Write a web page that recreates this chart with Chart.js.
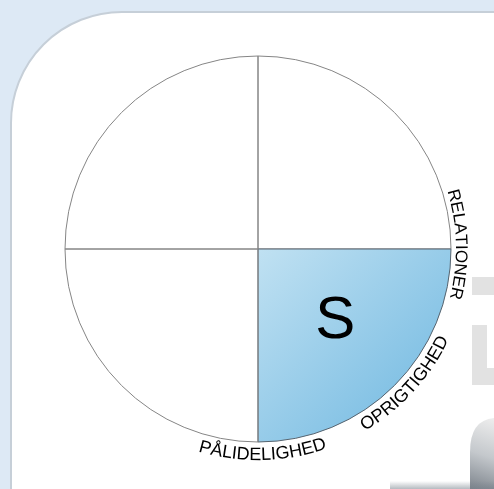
<!DOCTYPE html>
<html>
<head>
<meta charset="utf-8">
<script src="https://cdn.jsdelivr.net/npm/chart.js@4.4.1/dist/chart.umd.min.js"></script>
<style>
  html, body { margin: 0; padding: 0; }
  body { width: 494px; height: 489px; overflow: hidden; background: #dde9f5; position: relative; }
  #card {
    position: absolute; left: 10px; top: 11px; width: 520px; height: 520px;
    background: #fff; border: 2px solid #c6cfd8; border-top-left-radius: 112px;
  }
  #wheel { position: absolute; left: 0; top: 0; }
</style>
</head>
<body>
<div id="card"></div>
<canvas id="wheel" width="494" height="489"></canvas>
<script>
// === Data ===
const quadrantValues = [1, 1, 1, 1];             // fire lige store kvadranter
const quadrantLetters = ['', 'S', '', ''];       // bogstav i kvadrant
const quadrantActive = [false, true, false, false];
const ringLabels = ['RELATIONER', 'OPRIGTIGHED', 'PÅLIDELIGHED'];
const ringLabelAngles = [-1.5, 42.5, 88.7];      // grader, 0 = højre, med uret
const ringLabelOutward = [true, false, false];   // bogstavtoppe vendt udad?

const FONT = '"Liberation Sans", Arial, sans-serif';

// buet tekst langs cirklen
function drawArcText(ctx, text, cx, cy, r, centerDeg, outward, size) {
    ctx.save();
    ctx.font = size + 'px ' + FONT;
    ctx.fillStyle = '#000';
    ctx.textAlign = 'center';
    ctx.textBaseline = 'alphabetic';
    const total = ctx.measureText(text).width;
    const span = total / r;
    const mid = centerDeg * Math.PI / 180;
    let acc = 0;
    for (const ch of text) {
        const w = ctx.measureText(ch).width;
        const a = outward
            ? mid - span / 2 + (acc + w / 2) / r
            : mid + span / 2 - (acc + w / 2) / r;
        ctx.save();
        ctx.translate(cx + r * Math.cos(a), cy + r * Math.sin(a));
        ctx.rotate(outward ? a + Math.PI / 2 : a - Math.PI / 2);
        ctx.fillText(ch, 0, 0);
        ctx.restore();
        acc += w;
    }
    ctx.restore();
}

// grå baggrundsfigurer til højre
const decorPlugin = {
    id: 'decor',
    beforeDraw(chart) {
        const ctx = chart.ctx;
        ctx.save();
        ctx.fillStyle = '#e2e2e2';
        ctx.fillRect(472, 277, 22, 18);
        ctx.fillRect(472, 325, 15, 60);
        ctx.fillRect(472, 368, 22, 17);
        const g = ctx.createLinearGradient(494, 420, 470, 489);
        g.addColorStop(0, '#ececec');
        g.addColorStop(0.5, '#c4c8cc');
        g.addColorStop(1, '#7d848c');
        ctx.fillStyle = g;
        ctx.beginPath();
        ctx.moveTo(494, 418);
        ctx.quadraticCurveTo(470, 420, 470, 452);
        ctx.lineTo(470, 489);
        ctx.lineTo(494, 489);
        ctx.closePath();
        ctx.fill();
        const s = ctx.createLinearGradient(0, 481, 0, 489);
        s.addColorStop(0, 'rgba(120,130,140,0)');
        s.addColorStop(1, 'rgba(120,130,140,0.55)');
        ctx.fillStyle = s;
        ctx.fillRect(390, 481, 104, 8);
        ctx.restore();
    }
};

const labelPlugin = {
    id: 'ringLabels',
    afterDraw(chart) {
        const arc = chart.getDatasetMeta(0).data[0];
        const {x: cx, y: cy, outerRadius: R} = arc.getProps(['x', 'y', 'outerRadius'], true);
        const ctx = chart.ctx;
        ringLabels.forEach((t, i) => {
            const out = ringLabelOutward[i];
            drawArcText(ctx, t, cx, cy, out ? R + 5 : R + 18, ringLabelAngles[i], out, out ? 17 : 18);
        });
        // bogstaver i kvadranterne
        chart.getDatasetMeta(0).data.forEach((el, i) => {
            if (!quadrantLetters[i]) return;
            const p = el.getProps(['startAngle', 'endAngle'], true);
            const a = (p.startAngle + p.endAngle) / 2 - 0.07;
            const x = cx + R * 0.53 * Math.cos(a);
            const y = cy + R * 0.53 * Math.sin(a);
            ctx.save();
            ctx.font = '60px ' + FONT;
            ctx.fillStyle = '#000';
            ctx.textAlign = 'center';
            ctx.textBaseline = 'alphabetic';
            ctx.fillText(quadrantLetters[i], x, y + 21.5);
            ctx.restore();
        });
    }
};

new Chart(document.getElementById('wheel'), {
    type: 'pie',
    data: {
        labels: quadrantLetters,
        datasets: [{
            data: quadrantValues,
            radius: 193,
            backgroundColor(c) {
                if (!quadrantActive[c.dataIndex]) return 'rgba(255,255,255,0)';
                const ch = c.chart;
                if (!ch.chartArea) return '#9ccfeb';
                const cx = (ch.chartArea.left + ch.chartArea.right) / 2;
                const cy = (ch.chartArea.top + ch.chartArea.bottom) / 2;
                const g = ch.ctx.createLinearGradient(cx, cy, cx + 180, cy + 180);
                g.addColorStop(0, '#c0e1f2');
                g.addColorStop(1, '#72b9e1');
                return g;
            },
            borderColor: quadrantActive.map(a => a ? '#56636e' : '#858585'),
            borderWidth: 1
        }]
    },
    options: {
        responsive: false,
        animation: false,
        layout: { padding: { left: 60, right: 38, top: 50, bottom: 41 } },
        plugins: { legend: { display: false }, tooltip: { enabled: false } }
    },
    plugins: [decorPlugin, labelPlugin]
});
</script>
</body>
</html>
